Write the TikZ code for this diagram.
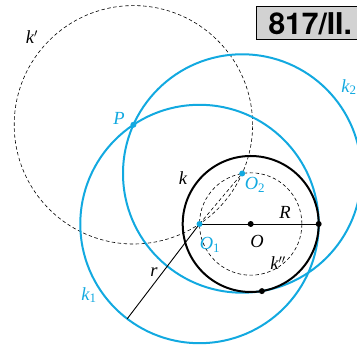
\documentclass[tikz,border=0pt]{standalone}
\usepackage{fontspec}
\setmainfont{Liberation Serif}
\newfontfamily\titlefont{TeX Gyre Heros}
\usepackage{tikz}
\usepackage{xcolor}
\usetikzlibrary{positioning}
\definecolor{kblue}{HTML}{12A9E0}
\definecolor{boxgray}{HTML}{D2D2D2}

\tikzset{
    bluecirc/.style={kblue,line width=2pt},
    aux/.style={black,line width=0.6pt,dash pattern=on 3.5pt off 2.5pt},
    lab/.style={font=\fontsize{18.5}{20}\selectfont\itshape},
    bluelab/.style={lab,text=kblue},
    titlebox/.style={draw,line width=1pt,fill=boxgray,minimum height=33pt,inner xsep=12pt,
        font=\titlefont\bfseries\fontsize{30}{32}\selectfont}
}

\begin{document}
\begin{tikzpicture}[x=1pt,y=1pt]
    \useasboundingbox (0,0) rectangle (357,345);
    \coordinate (O) at (250.7,121);
    \coordinate (O1) at (199.5,121);
    \coordinate (O2) at (242.2,171.5);
    \coordinate (P) at (133.4,220.2);
    \coordinate (T1) at (318.7,121);
    \coordinate (T2) at (261.9,53.9);
    \coordinate (E) at (127.2,26.2);
    % dashed helper circles
    \draw[aux] (P) circle[radius=119.2];
    \draw[aux] (O) circle[radius=51.2];
    \draw[aux] (O1)--(O2);
    % k1, k2 and k
    \draw[bluecirc] (O1) circle[radius=119.2];
    \draw[bluecirc] (O2) circle[radius=119.2];
    \draw[line width=2pt] (O) circle[radius=68];
    \draw[line width=0.9pt] (O1)--(T1);
    \draw[line width=0.9pt] (O1)--(E);
    \foreach \p in {O,T1,T2}
    {
        \fill (\p) circle[radius=3];
    }
    \foreach \p in {O1,O2,P}
    {
        \fill[kblue] (\p) circle[radius=3];
    }
    \node[titlebox,anchor=west] (title) at (256,321.5) {817/II.};
    \node[lab] (lkp) at (32,308) {k$'$};
    \node[bluelab] (lP) at (119,227) {P};
    \node[bluelab] (lk2) at (349,258) {k\textsubscript{\upshape 2}};
    \node[lab] (lk) at (183,167) {k};
    \node[bluelab] (lO2) at (255,160) {O\textsubscript{\upshape 2}};
    \node[lab] (lR) at (285,133) {R};
    \node[bluelab] (lO1) at (210,100) {O\textsubscript{\upshape 1}};
    \node[lab] (lO) at (257,104) {O};
    \node[lab] (lkpp) at (278,82) {k$''$};
    \node[lab] (lr) at (154,73) {r};
    \node[bluelab] (lk1) at (89,50) {k\textsubscript{\upshape 1}};
\end{tikzpicture}
\end{document}
